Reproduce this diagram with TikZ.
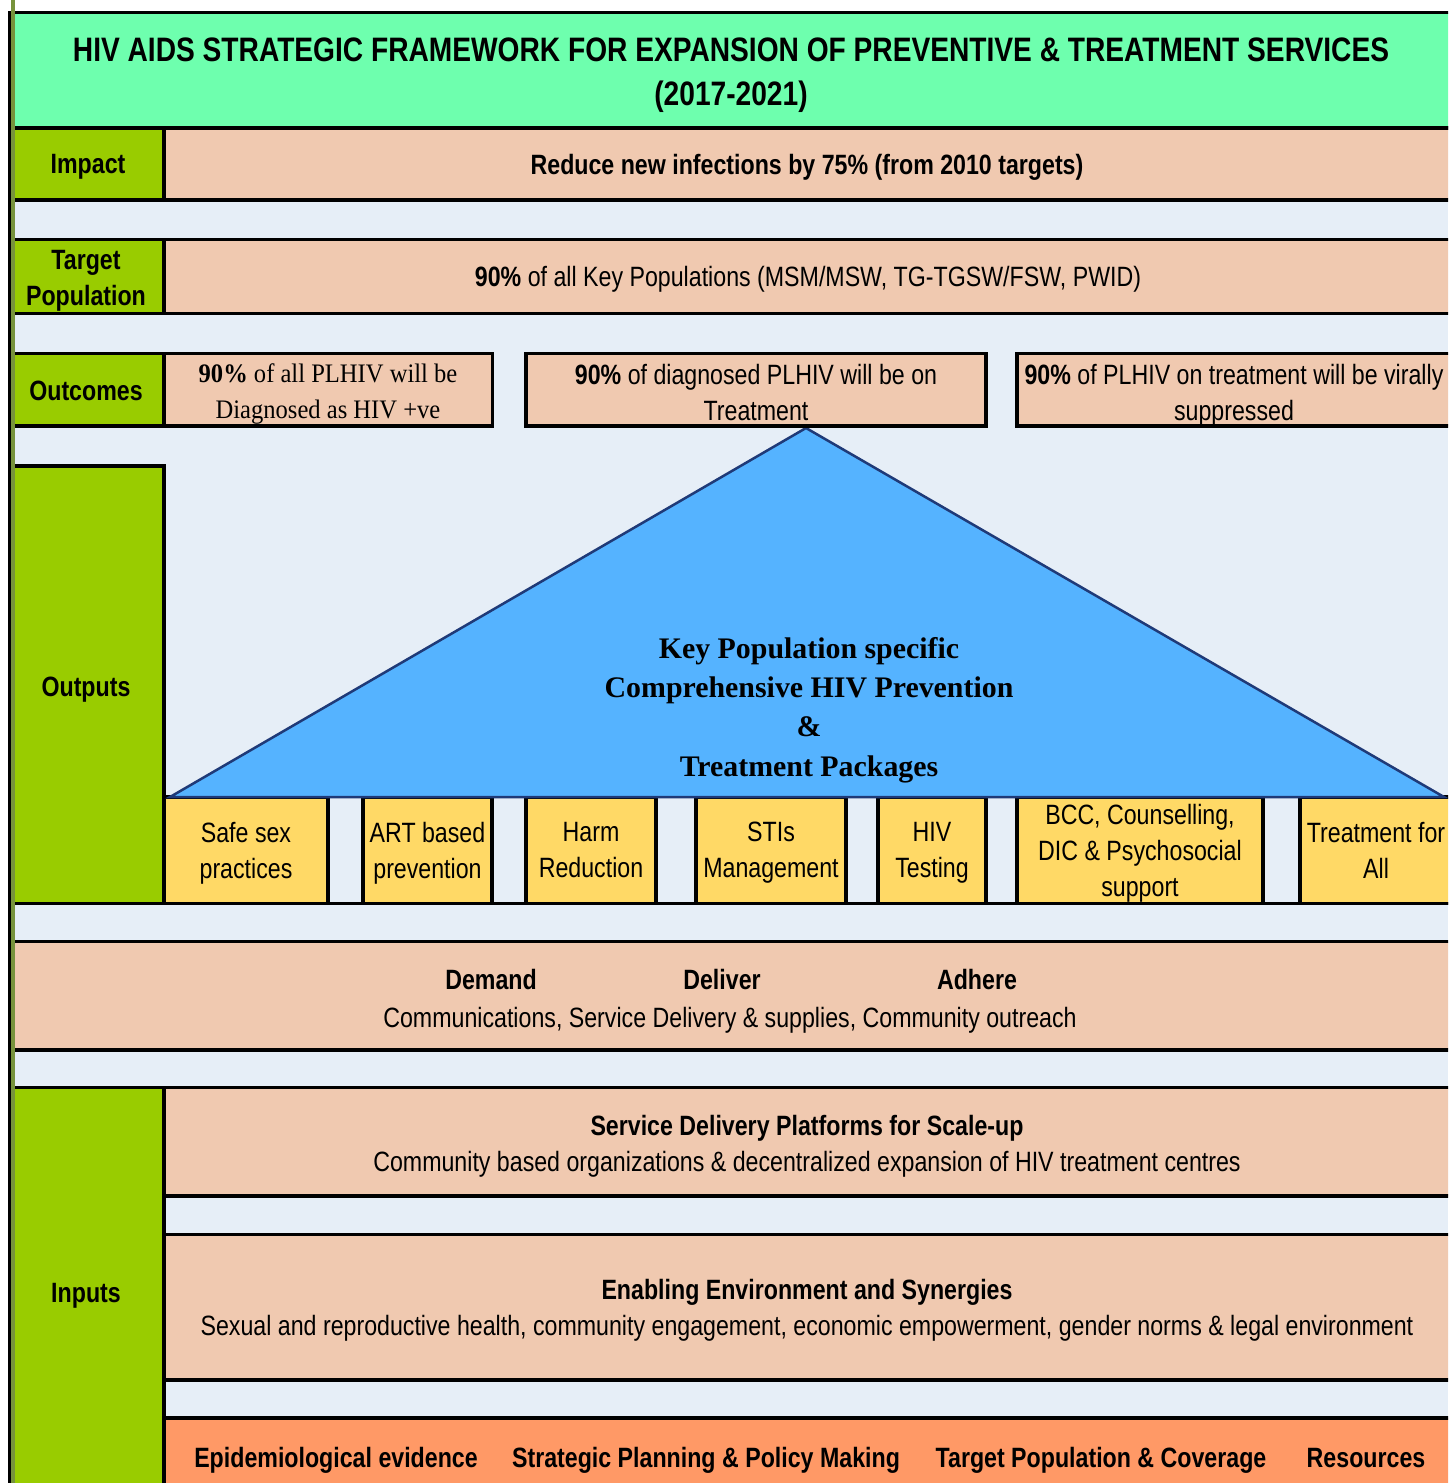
\documentclass[tikz,border=0pt]{standalone}
\usepackage{fontspec}
\setmainfont{Liberation Sans}
\newfontfamily\narrowsans[FakeStretch=0.83]{Liberation Sans}
\newfontfamily\narrowserif[FakeStretch=0.92]{Liberation Serif}
\newfontfamily\packserif{Liberation Serif}

\definecolor{bgblue}{HTML}{E6EEF7}
\definecolor{titlegreen}{HTML}{6EFFAE}
\definecolor{levelgreen}{HTML}{99CC00}
\definecolor{peach}{HTML}{F0C9B0}
\definecolor{gold}{HTML}{FFD966}
\definecolor{skyblue}{HTML}{55B3FF}
\definecolor{navy}{HTML}{1F3A78}
\definecolor{apricot}{HTML}{FF9966}
\definecolor{olive}{HTML}{77933C}

\tikzset{
  frame/.style={draw=black, line width=0.07cm},
  level/.style={frame, fill=levelgreen},
  band/.style={frame, fill=peach},
  pack/.style={frame, fill=gold},
  txt/.style={inner sep=0pt, align=center, font={\narrowsans\fontsize{15.9}{20.5}\selectfont}},
  head/.style={txt, font={\narrowsans\bfseries\fontsize{15.9}{20.5}\selectfont}},
}

\begin{document}
\begin{tikzpicture}[x=0.02cm, y=-0.02cm]

    \useasboundingbox (0,0) rectangle (1448,1483);
    \clip (0,0) rectangle (1448,1483);
    \fill[bgblue] (12,12) rectangle (1448,1483);

    \draw[frame, fill=titlegreen] (12,12.75) rectangle (1452,128);
    \node[txt, font={\narrowsans\bfseries\fontsize{19.3}{24.9}\selectfont}] (title) at (731,75)
        {HIV AIDS STRATEGIC FRAMEWORK FOR EXPANSION OF PREVENTIVE \& TREATMENT SERVICES\\(2017-2021)};

    \draw[level] (12,128) rectangle (164,200);
    \draw[band] (164,128) rectangle (1452,200);
    \node[head, anchor=base] (impact) at (88,174) {Impact};
    \node[head, anchor=base] (goal) at (807,175) {Reduce new infections by 75\% (from 2010 targets)};

    \draw[level] (12,239.5) rectangle (164,313.5);
    \draw[band] (164,239.5) rectangle (1452,313.5);
    \node[head] (target) at (86,281) {Target\\Population};
    \node[txt, anchor=base] (keypop) at (808,287) {\textbf{90\%} of all Key Populations (MSM/MSW, TG-TGSW/FSW, PWID)};

    \draw[level] (12,466) rectangle (164,903.5);
    \node[head, anchor=base] (outputs) at (86,696) {Outputs};

    \foreach \l/\r/\t [count=\i] in {164/328/{Safe sex\\practices}, 363/492/{ART based\\prevention},
        526/656/{Harm\\Reduction\vphantom{p}}, 696/846/{STIs\\Management}, 878/986/{HIV\\Testing},
        1017/1263/{BCC, Counselling,\\DIC \& Psychosocial\\support}, 1300/1452/{Treatment for\\All\vphantom{p}}}
    {
        \draw[pack] (\l,797) rectangle (\r,903.5);
        \node[txt] (pack\i) at ({(\l+\r)/2},853) {\t};
    }
    \draw[frame] (12,903.5) -- (1452,903.5);

    \draw[navy, line width=0.05cm, fill=skyblue] (806,428) -- (170,797) -- (1444,797) -- cycle;
    \node[inner sep=0pt, align=center, font={\packserif\bfseries\fontsize{17}{22.4}\selectfont}] (packages) at (809,710)
        {Key Population specific\\Comprehensive HIV Prevention\\\&\\Treatment Packages};

    \draw[level] (12,353.5) rectangle (164,426);
    \draw[band] (164,353.5) rectangle (492.5,426);
    \draw[band] (526,353.5) rectangle (986,426);
    \draw[band] (1017,353.5) rectangle (1452,426);
    \node[head, anchor=base] (outcomes) at (86,400) {Outcomes};
    \node[inner sep=0pt, align=center, font={\narrowserif\fontsize{15.2}{20.5}\selectfont}] (diagnosed) at (328,394)
        {\textbf{90\%} of all PLHIV will be\\Diagnosed as HIV +ve};
    \node[txt] (treated) at (756,393) {\textbf{90\%} of diagnosed PLHIV will be on\\Treatment};
    \node[txt] (suppressed) at (1234,395) {\textbf{90\%} of PLHIV on treatment will be virally\\suppressed};

    \draw[band] (12,941.5) rectangle (1452,1050);
    \node[head, anchor=base] (demand) at (491,989) {Demand};
    \node[head, anchor=base] (deliver) at (722,989) {Deliver};
    \node[head, anchor=base] (adhere) at (977,989) {Adhere};
    \node[txt, anchor=base] (channels) at (730,1027) {Communications, Service Delivery \& supplies, Community outreach};

    \draw[level] (12,1087.5) rectangle (164,1490);
    \draw[band] (164,1087.5) rectangle (1452,1196);
    \draw[band] (164,1234.5) rectangle (1452,1380);
    \draw[frame, fill=apricot] (164,1418) rectangle (1452,1490);
    \node[head, anchor=base] (inputs) at (86,1302) {Inputs};
    \node[txt] (platforms) at (807,1146)
        {\textbf{Service Delivery Platforms for Scale-up}\\Community based organizations \& decentralized expansion of HIV treatment centres};
    \node[txt] (enabling) at (807,1310)
        {\textbf{Enabling Environment and Synergies}\\Sexual and reproductive health, community engagement, economic empowerment, gender norms \& legal environment};

    \node[head, anchor=base] (evidence) at (336,1467) {Epidemiological evidence};
    \node[head, anchor=base] (planning) at (706,1467) {Strategic Planning \& Policy Making};
    \node[head, anchor=base] (coverage) at (1101,1467) {Target Population \& Coverage};
    \node[head, anchor=base] (resources) at (1366,1467) {Resources};

    \fill[black] (8,11) rectangle (11,1483);
    \fill[olive] (11,0) rectangle (15,1483);

\end{tikzpicture}
\end{document}
